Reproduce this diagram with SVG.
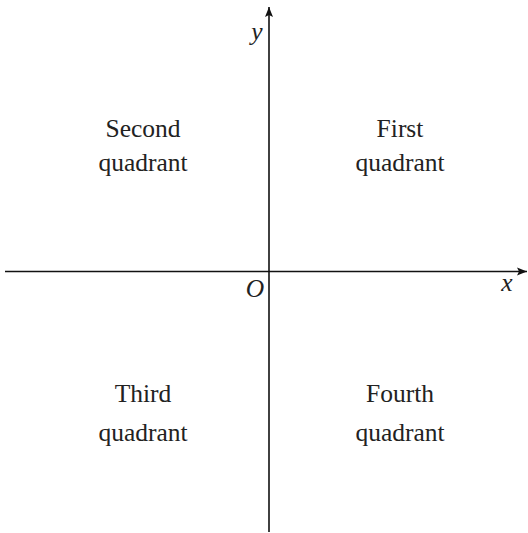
<svg xmlns="http://www.w3.org/2000/svg" width="528" height="533" viewBox="0 0 528 533">
<style>
.t{font-family:"Liberation Serif","Times New Roman",serif;font-size:25.5px;fill:#222;text-anchor:middle}
.i{font-style:italic}
.ax{stroke:#111;stroke-width:1.6;fill:none}
</style>
<defs>
<marker id="arr" viewBox="0 0 10 10" refX="10" refY="5" markerWidth="10" markerHeight="10" markerUnits="userSpaceOnUse" orient="auto">
<path d="M0,1 L10,5 L0,9 L2,5 Z" fill="#111"/>
</marker>
</defs>
<rect width="528" height="533" fill="#fff"/>
<g id="connectors">
<line class="ax" x1="5" y1="271.5" x2="527" y2="271.5" marker-end="url(#arr)"/>
<line class="ax" x1="269" y1="532" x2="269" y2="7" marker-end="url(#arr)"/>
</g>
<g id="labels">
<text class="t i" x="257" y="40">y</text>
<text class="t i" x="507" y="291">x</text>
<text class="t i" x="255" y="297">O</text>
</g>
<g id="q1"><text class="t" x="400" y="137">First</text><text class="t" x="400" y="171">quadrant</text></g>
<g id="q2"><text class="t" x="143" y="137">Second</text><text class="t" x="143" y="171">quadrant</text></g>
<g id="q3"><text class="t" x="143" y="402">Third</text><text class="t" x="143" y="441">quadrant</text></g>
<g id="q4"><text class="t" x="400" y="402">Fourth</text><text class="t" x="400" y="441">quadrant</text></g>
</svg>
